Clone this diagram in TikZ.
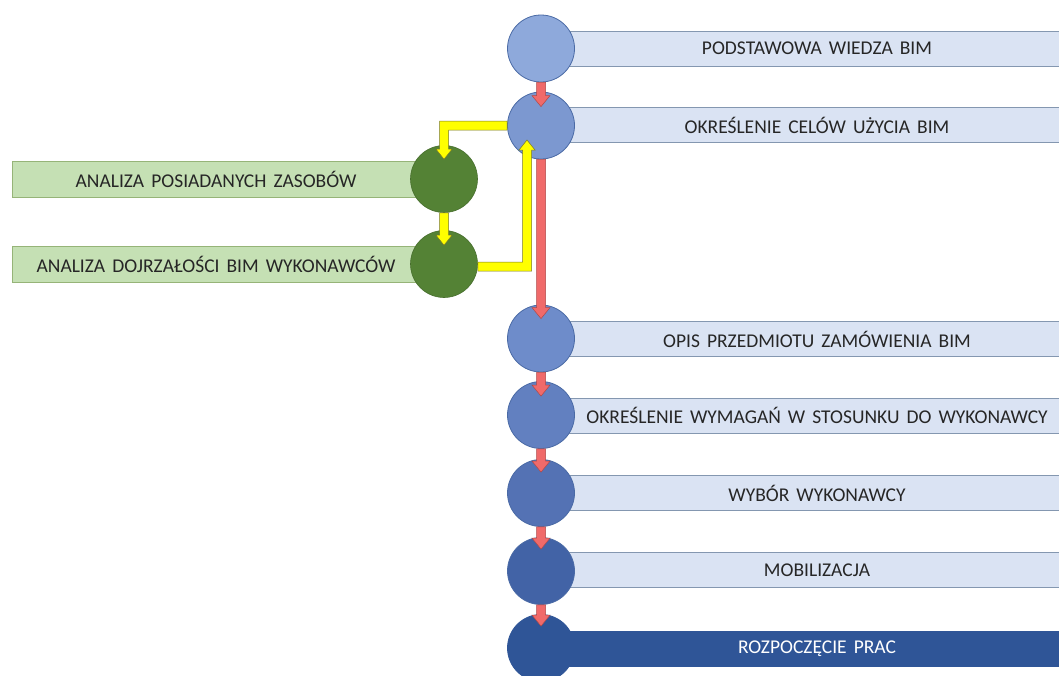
\documentclass[tikz,border=0pt]{standalone}
\usepackage{fontspec}
\setmainfont{Carlito}[WordSpace=1.6]
\usetikzlibrary{calc}

\definecolor{barblue}{RGB}{218,227,243}
\definecolor{barblueline}{RGB}{132,151,176}
\definecolor{circline}{RGB}{74,106,165}
\definecolor{cA}{RGB}{142,169,219}
\definecolor{cB}{RGB}{124,152,208}
\definecolor{cC}{RGB}{110,140,202}
\definecolor{cD}{RGB}{98,128,192}
\definecolor{cE}{RGB}{84,114,180}
\definecolor{cF}{RGB}{66,99,166}
\definecolor{cG}{RGB}{47,85,151}
\definecolor{gcirc}{RGB}{84,130,53}
\definecolor{gbar}{RGB}{197,224,180}
\definecolor{gbarline}{RGB}{150,180,120}
\definecolor{redfill}{RGB}{240,106,106}
\definecolor{redline}{RGB}{175,72,72}
\definecolor{yelfill}{RGB}{255,255,0}
\definecolor{yelline}{RGB}{120,120,40}
\definecolor{txt}{RGB}{38,38,38}

\tikzset{
  stepcirc/.style={circle, draw=circline, line width=0.8pt, minimum size=67pt, inner sep=0pt},
  greencirc/.style={circle, fill=gcirc, draw=gcirc!85!black, line width=0.6pt, minimum size=67pt, inner sep=0pt},
  bluebar/.style={rectangle, fill=barblue, draw=barblueline, line width=0.8pt, minimum width=552pt,
    minimum height=35pt, inner sep=0pt, text=txt, font=\fontsize{19.5}{22}\selectfont},
  darkbar/.style={bluebar, fill=cG, draw=cG, text=white},
  greenbar/.style={rectangle, fill=gbar, draw=gbarline, line width=0.8pt, minimum width=408pt,
    minimum height=36pt, inner sep=0pt, text=txt, font=\fontsize{19.5}{22}\selectfont},
  redarrow/.style={fill=redfill, draw=redline, line width=0.5pt, line join=miter},
  yelarrow/.style={fill=yelfill, draw=yelline, line width=0.5pt, line join=miter},
}

% straight downward block arrow: #1 style, #2 start, #3 tip
\newcommand\downblock[3]{%
  \draw[#1] ($(#2)+(-4.5,0)$) -- ($(#3)+(-4.5,-11)$) -- ($(#3)+(-9,-11)$) -- (#3)
    -- ($(#3)+(9,-11)$) -- ($(#3)+(4.5,-11)$) -- ($(#2)+(4.5,0)$) -- cycle;}

\begin{document}
\begin{tikzpicture}[x=1pt,y=-1pt]
  \useasboundingbox (0,0) rectangle (1059,675);
  \clip (0,0) rectangle (1059,675);

  % process bars
  \node[bluebar] (b1) at (817,48.5) {PODSTAWOWA WIEDZA BIM};
  \node[bluebar] (b2) at (817,125) {OKREŚLENIE CELÓW UŻYCIA BIM};
  \node[bluebar] (b3) at (817,339) {OPIS PRZEDMIOTU ZAMÓWIENIA BIM};
  \node[bluebar] (b4) at (817,415.5) {OKREŚLENIE WYMAGAŃ W STOSUNKU DO WYKONAWCY};
  \node[bluebar] (b5) at (817,493) {WYBÓR WYKONAWCY};
  \node[bluebar] (b6) at (817,570) {MOBILIZACJA};
  \node[darkbar] (b7) at (817,648.5) {ROZPOCZĘCIE PRAC};

  \node[greenbar] (gbA) at (216,179) {ANALIZA POSIADANYCH ZASOBÓW};
  \node[greenbar] (gbB) at (216,264.5) {ANALIZA DOJRZAŁOŚCI BIM WYKONAWCÓW};

  % step circles
  \node[stepcirc, fill=cA] (c1) at (541,48.5) {};
  \node[stepcirc, fill=cB] (c2) at (541,125.5) {};
  \node[stepcirc, fill=cC] (c3) at (541,338.5) {};
  \node[stepcirc, fill=cD] (c4) at (541,415) {};
  \node[stepcirc, fill=cE] (c5) at (541,493) {};
  \node[stepcirc, fill=cF] (c6) at (541,571) {};
  \node[stepcirc, fill=cG, draw=cG] (c7) at (541,648) {};

  \node[greencirc] (gA) at (444,179) {};
  \node[greencirc] (gB) at (444,264) {};

  % main flow arrows
  \coordinate (t2) at ($(c2.north)+(0,15)$);
  \coordinate (t3) at ($(c3.north)+(0,14)$);
  \coordinate (t4) at ($(c4.north)+(0,15)$);
  \coordinate (t5) at ($(c5.north)+(0,13)$);
  \coordinate (t6) at ($(c6.north)+(0,12)$);
  \coordinate (t7) at ($(c7.north)+(0,12)$);
  \downblock{redarrow}{c1.south}{t2}
  \downblock{redarrow}{c2.south}{t3}
  \downblock{redarrow}{c3.south}{t4}
  \downblock{redarrow}{c4.south}{t5}
  \downblock{redarrow}{c5.south}{t6}
  \downblock{redarrow}{c6.south}{t7}

  % analysis loop
  \coordinate (ya) at ($(gA.north)+(0,14)$);
  \draw[yelarrow] ($(c2.west)+(0,-4.5)$) -- ($(ya |- c2.west)+(-4.5,-4.5)$)
    -- ($(ya)+(-4.5,-10)$) -- ($(ya)+(-8,-10)$) -- (ya) -- ($(ya)+(8,-10)$)
    -- ($(ya)+(4.5,-10)$) -- ($(ya |- c2.west)+(4.5,4.5)$) -- ($(c2.west)+(0,4.5)$) -- cycle;

  \coordinate (yb) at ($(gB.north)+(0,15)$);
  \draw[yelarrow] ($(gA.south)+(-4.5,0)$) -- ($(yb)+(-4.5,-10)$) -- ($(yb)+(-8,-10)$) -- (yb)
    -- ($(yb)+(8,-10)$) -- ($(yb)+(4.5,-10)$) -- ($(gA.south)+(4.5,0)$) -- cycle;

  \coordinate (yc) at ($(c2.center)+(-14,14.5)$);
  \coordinate (ye) at ($(gB.east)+(0,2.5)$);
  \draw[yelarrow] ($(ye)+(0,-4.5)$) -- ($(yc |- ye)+(-4.5,-4.5)$)
    -- ($(yc)+(-4.5,10)$) -- ($(yc)+(-8,10)$) -- (yc) -- ($(yc)+(8,10)$)
    -- ($(yc)+(4.5,10)$) -- ($(yc |- ye)+(4.5,4.5)$) -- ($(ye)+(0,4.5)$) -- cycle;
\end{tikzpicture}
\end{document}
